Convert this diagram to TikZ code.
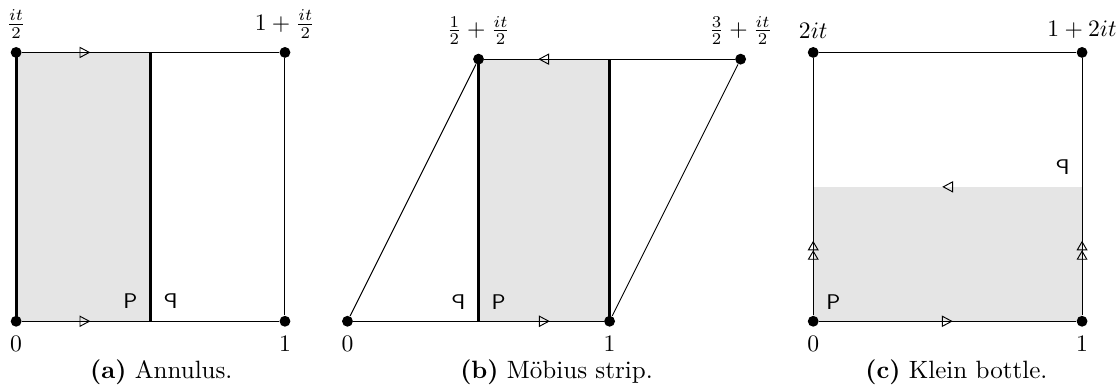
\documentclass[tikz,border=0pt]{standalone}
\usepackage{graphicx}
\usepackage{tikz}
\usetikzlibrary{arrows.meta,positioning,decorations.markings}

\tikzset{
  dot/.style={circle,fill,inner sep=0pt,minimum size=4.6pt},
  seam/.style={line width=1.2pt},
  sheet/.style={fill=gray!20},
  letter/.style={font=\small\sffamily,inner sep=0pt},
  caption/.style={anchor=base,font=\fontsize{10.6}{12}\selectfont},
  glue/.style={postaction={decorate},decoration={markings,mark=at position #1 with {\arrow{Triangle[open,length=4.6pt,width=4.8pt]}}}},
  glueglue/.style={postaction={decorate},decoration={markings,mark=at position #1 with {\arrow{Triangle[open,length=4pt,width=4.6pt,sep=0pt]Triangle[open,length=4pt,width=4.6pt]}}}},
}
\newcommand{\flipP}{\reflectbox{P}}

\begin{document}
\begin{tikzpicture}
  \useasboundingbox (-0.24,-1.01) rectangle (16.38,4.78);
  % (a) annulus
  \fill[sheet] (0,0) rectangle (2,4);
  \node[dot] (a0) at (0,0) {};
  \node[dot] (a1) at (4,0) {};
  \node[dot] (a2) at (4,4) {};
  \node[dot] (a3) at (0,4) {};
  \coordinate (am0) at (2,0);
  \coordinate (am1) at (2,4);
  \draw[glue=0.266] (a0) -- (a1);
  \draw[glue=0.266] (a3) -- (a2);
  \draw (a1) -- (a2);
  \draw[seam] (a0.center) -- (a3.center);
  \draw[seam] (am0) -- (am1);
  \node[letter] (pa) at (1.7,0.3) {P};
  \node[letter] (qa) at (2.3,0.3) {\flipP};
  \node[below=0.5pt of a0] (la0) {$0$};
  \node[below=0.5pt of a1] (la1) {$1$};
  \node[above=0pt of a3] (la3) {$\frac{it}{2}$};
  \node[above=0pt of a2] (la2) {$1+\frac{it}{2}$};
  \node[caption] (capa) at (2.16,-0.85) {\textbf{(a)} Annulus.};

  % (b) moebius strip
  \begin{scope}[xshift=4.93cm]
    \fill[sheet] (1.95,0) rectangle (3.9,3.9);
    \node[dot] (b0) at (0,0) {};
    \node[dot] (b1) at (3.9,0) {};
    \node[dot] (b2) at (5.85,3.9) {};
    \node[dot] (b3) at (1.95,3.9) {};
    \coordinate (bm0) at (1.95,0);
    \coordinate (bm1) at (3.9,3.9);
    \draw[glue=0.785] (b0) -- (b1);
    \draw[glue=0.785] (b2) -- (b3);
    \draw (b0) -- (b3);
    \draw (b1) -- (b2);
    \draw[seam] (bm0) -- (b3.center);
    \draw[seam] (b1.center) -- (bm1);
    \node[letter] (qb) at (1.65,0.28) {\flipP};
    \node[letter] (pb) at (2.25,0.28) {P};
    \node[below=0.5pt of b0] (lb0) {$0$};
    \node[below=0.5pt of b1] (lb1) {$1$};
    \node[above=0pt of b3] (lb3) {$\frac{1}{2}+\frac{it}{2}$};
    \node[above=0pt of b2] (lb2) {$\frac{3}{2}+\frac{it}{2}$};
    \node[caption] (capb) at (3.11,-0.85) {\textbf{(b)} M\"obius strip.};
  \end{scope}

  % (c) klein bottle
  \begin{scope}[xshift=11.86cm]
    \fill[sheet] (0,0) rectangle (4,2);
    \node[dot] (c0) at (0,0) {};
    \node[dot] (c1) at (4,0) {};
    \node[dot] (c2) at (4,4) {};
    \node[dot] (c3) at (0,4) {};
    \coordinate (cl) at (0,2);
    \coordinate (cr) at (4,2);
    \draw[glue=0.52] (c0) -- (c1);
    \draw (c3) -- (c2);
    \draw[glueglue=0.29] (c0) -- (c3);
    \draw[glueglue=0.29] (c1) -- (c2);
    \path[glue=0.52] (cr) -- (cl);
    \node[letter] (pc) at (0.3,0.28) {P};
    \node[letter] (qc) at (3.71,2.29) {\flipP};
    \node[below=0.5pt of c0] (lc0) {$0$};
    \node[below=0.5pt of c1] (lc1) {$1$};
    \node[above=0pt of c3] (lc3) {$2it$};
    \node[above=0pt of c2] (lc2) {$1+2it$};
    \node[caption] (capc) at (2.13,-0.85) {\textbf{(c)} Klein bottle.};
  \end{scope}
\end{tikzpicture}
\end{document}
